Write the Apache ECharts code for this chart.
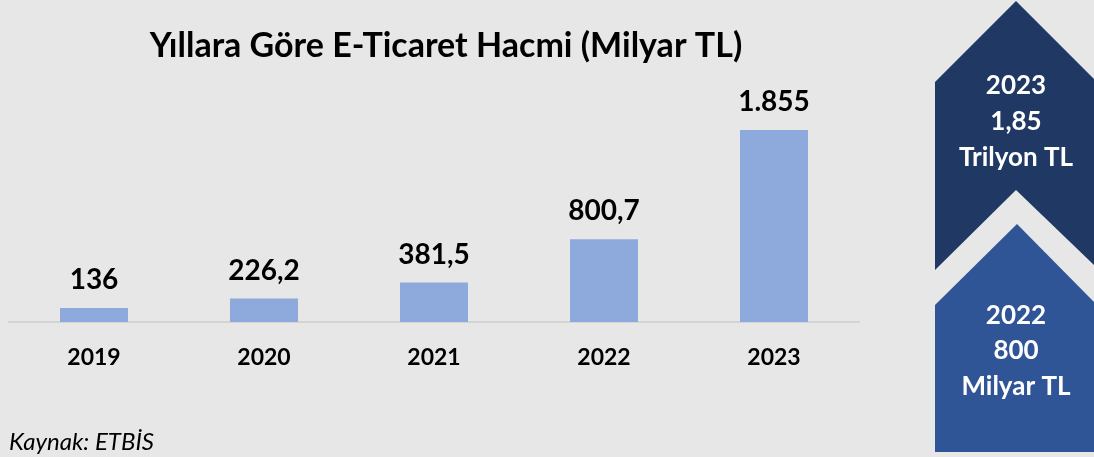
<!DOCTYPE html>
<html>
<head>
<meta charset="utf-8">
<script src="https://cdn.jsdelivr.net/npm/echarts@6/dist/echarts.min.js"></script>
<style>
  html, body { margin: 0; padding: 0; background: #e7e7e7; }
  #chart { width: 1094px; height: 457px; }
</style>
</head>
<body>
<div id="chart"></div>
<script>
// data
const years = ['2019', '2020', '2021', '2022', '2023'];
const volumes = [136, 226.2, 381.5, 800.7, 1855];
const volumeLabels = ['136', '226,2', '381,5', '800,7', '1.855'];

const FONT = 'Lato';

const chart = echarts.init(document.getElementById('chart'));

// white text lines inside the chevrons
function chevronText(lines, cx, ys) {
    return lines.map((t, i) => ({
        type: 'text',
        x: cx,
        y: ys[i],
        style: {
            text: t,
            align: 'center',
            verticalAlign: 'middle',
            fill: '#fff',
            font: 'bold 26px ' + FONT
        }
    }));
}

const option = {
    backgroundColor: '#e7e7e7',
    textStyle: { fontFamily: FONT },
    grid: { left: 9, right: 235, top: 115, bottom: 135 },
    xAxis: {
        type: 'category',
        data: years,
        axisLine: { lineStyle: { color: '#d4d4d4', width: 2 } },
        axisTick: { show: false },
        axisLabel: { fontSize: 23, fontWeight: 'bold', color: '#000', margin: 24, fontFamily: FONT }
    },
    yAxis: {
        type: 'value',
        min: 0,
        max: 2000,
        show: false,
        splitLine: { show: false }
    },
    series: [{
        type: 'bar',
        data: volumes,
        barWidth: '40%',
        itemStyle: { color: '#8eaadc' },
        label: {
            show: true,
            position: 'top',
            distance: 14,
            fontSize: 28,
            fontWeight: 'bold',
            color: '#000',
            fontFamily: FONT,
            formatter: (p) => volumeLabels[p.dataIndex]
        }
    }],
    graphic: [
        {
            type: 'text',
            x: 446,
            y: 46,
            style: {
                text: 'Yıllara Göre E-Ticaret Hacmi (Milyar TL)',
                align: 'center',
                verticalAlign: 'middle',
                fill: '#000',
                font: 'bold 34px ' + FONT
            }
        },
        // top chevron (2023)
        {
            type: 'polygon',
            shape: { points: [[935, 82], [1016, 1], [1097, 82], [1097, 268], [1016, 190], [935, 270]] },
            style: { fill: '#203864' }
        },
        // bottom chevron (2022)
        {
            type: 'polygon',
            shape: { points: [[935, 305], [1017, 224], [1097, 305], [1097, 452], [935, 452]] },
            style: { fill: '#2f5597' }
        },
        ...chevronText(['2023', '1,85', 'Trilyon TL'], 1016, [86, 122, 158]),
        ...chevronText(['2022', '800', 'Milyar TL'], 1016, [316, 351, 387]),
        {
            type: 'text',
            x: 9,
            y: 442,
            style: {
                text: 'Kaynak: ETBİS',
                verticalAlign: 'middle',
                fill: '#000',
                font: 'italic 24px ' + FONT
            }
        }
    ]
};

chart.setOption(option);
</script>
</body>
</html>
